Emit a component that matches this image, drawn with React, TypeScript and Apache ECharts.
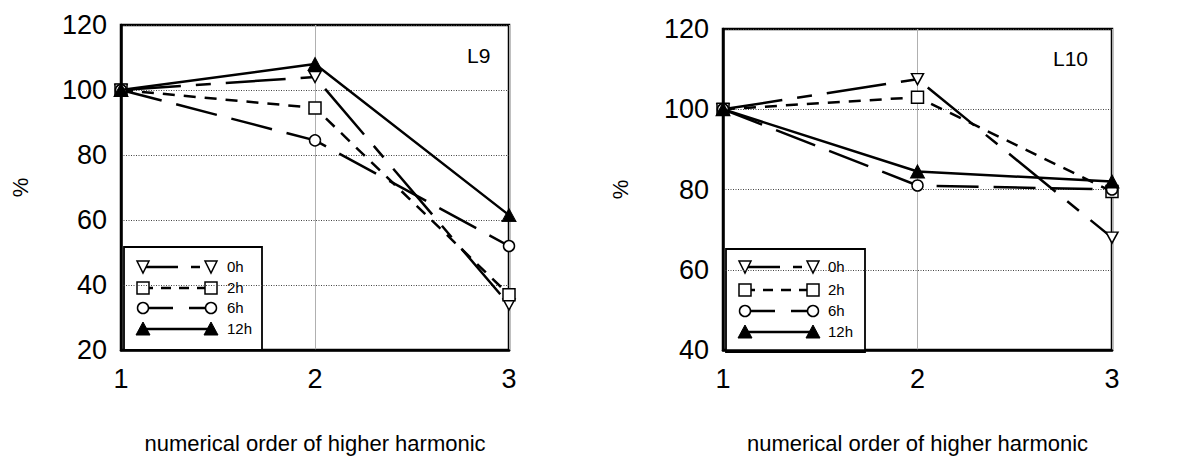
import React, { useEffect, useRef } from 'react';
import * as echarts from 'echarts';

// ---- data ----
const harmonics = [1, 2, 3];
const seriesNames = ['0h', '2h', '6h', '12h'];
const l9_0h = [100, 104, 34];
const l9_2h = [100, 94.5, 37];
const l9_6h = [100, 84.5, 52];
const l9_12h = [100, 108, 61.5];
const l10_0h = [100, 107.5, 68];
const l10_2h = [100, 103, 79.5];
const l10_6h = [100, 81, 80];
const l10_12h = [100, 84.5, 82];
const panelTitles = ['L9', 'L10'];
const yRangeL9 = [20, 120];
const yRangeL10 = [40, 120];
const yStep = 20;
const xAxisName = 'numerical order of higher harmonic';
const yAxisName = '%';

const FONT = '"Liberation Sans", Arial, sans-serif';

type Sty = { dash: number[] | 'solid'; legendDash: number[] | 'solid'; symbol: string; rotate: number; fill: string; size: number[] };
const styles: Sty[] = [
  { dash: [60, 15, 15, 15], legendDash: [35, 13, 9, 13], symbol: 'triangle', rotate: 180, fill: '#fff', size: [12, 11] },
  { dash: [12, 9], legendDash: [10, 8], symbol: 'rect', rotate: 0, fill: '#fff', size: [12, 12] },
  { dash: [42, 15], legendDash: [30, 16], symbol: 'circle', rotate: 0, fill: '#fff', size: [11, 11] },
  { dash: 'solid', legendDash: 'solid', symbol: 'triangle', rotate: 0, fill: '#000', size: [14, 13] },
];

function pts(vals: number[]) {
  return harmonics.map((h, i) => [h, vals[i]]);
}

function markerGraphic(kind: number, x: number, y: number) {
  const st = { fill: styles[kind].fill, stroke: '#000', lineWidth: 1.5 };
  if (kind === 0) return { type: 'polygon', shape: { points: [[x - 6, y - 6], [x + 6, y - 6], [x, y + 6]] }, style: st };
  if (kind === 1) return { type: 'rect', shape: { x: x - 6, y: y - 6, width: 12, height: 12 }, style: st };
  if (kind === 2) return { type: 'circle', shape: { cx: x, cy: y, r: 5.5 }, style: st };
  return { type: 'polygon', shape: { points: [[x, y - 7], [x + 7, y + 6], [x - 7, y + 6]] }, style: { fill: '#000', stroke: '#000', lineWidth: 1 } };
}

function legendGraphic(box: number[], rows: number[], sx1: number, sx2: number, tx: number) {
  const children: any[] = [
    { type: 'rect', shape: { x: box[0], y: box[1], width: box[2], height: box[3] }, style: { fill: '#fff', stroke: '#000', lineWidth: 1.8 } },
  ];
  rows.forEach((y, i) => {
    const d = styles[i].legendDash;
    children.push({
      type: 'line',
      shape: { x1: sx1, y1: y, x2: sx2, y2: y },
      style: { stroke: '#000', lineWidth: 2.5, lineDash: d === 'solid' ? null : d },
    });
    children.push(markerGraphic(i, sx1, y));
    children.push(markerGraphic(i, sx2, y));
    children.push({
      type: 'text',
      x: tx,
      y: y - 1,
      style: { text: seriesNames[i], font: `15px ${FONT}`, fill: '#000', textVerticalAlign: 'middle', verticalAlign: 'middle' },
    });
  });
  return { type: 'group', z: 100, children };
}

export default function App() {
  const ref = useRef<HTMLDivElement>(null);
  useEffect(() => {
    if (!ref.current) return;
    const chart = echarts.init(ref.current, null, { renderer: 'svg' });
    const panels = [
      { data: [l9_0h, l9_2h, l9_6h, l9_12h], range: yRangeL9 },
      { data: [l10_0h, l10_2h, l10_6h, l10_12h], range: yRangeL10 },
    ];
    const grids = [
      { left: 121, top: 25, width: 388, height: 330 },
      { left: 723, top: 29, width: 389, height: 328 },
    ];
    const xAxes: any[] = [];
    const yAxes: any[] = [];
    const series: any[] = [];
    panels.forEach((p, gi) => {
      xAxes.push({
        type: 'value', gridIndex: gi, min: 1, max: 3, interval: 1,
        name: xAxisName, nameLocation: 'middle', nameGap: 82,
        nameTextStyle: { fontFamily: FONT, fontSize: 22, color: '#000' },
        axisLine: { show: true, lineStyle: { color: '#000', width: 2.5 } },
        axisTick: { show: false },
        axisLabel: { fontFamily: FONT, fontSize: 27, color: '#000', margin: 15 },
        splitLine: { show: true, lineStyle: { color: '#b0b0b0', width: 1, type: 'solid' } },
      });
      yAxes.push({
        type: 'value', gridIndex: gi, min: p.range[0], max: p.range[1], interval: yStep,
        name: yAxisName, nameLocation: 'middle', nameGap: gi === 0 ? 90 : 92,
        nameTextStyle: { fontFamily: FONT, fontSize: 22, color: '#000' },
        axisLine: { show: true, lineStyle: { color: '#000', width: 2.5 } },
        axisTick: { show: false },
        axisLabel: { fontFamily: FONT, fontSize: 27, color: '#000', margin: 14 },
        splitLine: { show: true, lineStyle: { color: '#444', width: 1, type: [1, 1.5] } },
      });
      p.data.forEach((vals, si) => {
        const s = styles[si];
        series.push({
          type: 'line', name: seriesNames[si], xAxisIndex: gi, yAxisIndex: gi,
          data: pts(vals), clip: false,
          symbol: s.symbol, symbolRotate: s.rotate, symbolSize: s.size, showSymbol: true,
          lineStyle: { color: '#000', width: 2.5, type: s.dash },
          itemStyle: { color: s.fill, borderColor: '#000', borderWidth: s.fill === '#000' ? 1 : 1.5 },
          z: 2 + si,
        });
      });
    });
    chart.setOption({
      animation: false,
      backgroundColor: '#fff',
      grid: grids.map((g) => ({ ...g, show: true, borderColor: '#000', borderWidth: 2.5, backgroundColor: 'transparent', containLabel: false })),
      xAxis: xAxes,
      yAxis: yAxes,
      series,
      graphic: [
        { type: 'text', x: 467, y: 55, style: { text: panelTitles[0], font: `21px ${FONT}`, fill: '#000', verticalAlign: 'middle' }, z: 100 },
        { type: 'text', x: 1053, y: 58, style: { text: panelTitles[1], font: `21px ${FONT}`, fill: '#000', verticalAlign: 'middle' }, z: 100 },
        legendGraphic([124, 247, 138, 103], [267, 288, 308, 329], 143, 211, 227),
        legendGraphic([726, 249, 139, 103], [267, 290, 311, 332], 745, 813, 828),
      ],
    });
    return () => chart.dispose();
  }, []);
  return <div ref={ref} style={{ position: 'fixed', left: 0, top: 0, width: 1198, height: 459 }} />;
}
